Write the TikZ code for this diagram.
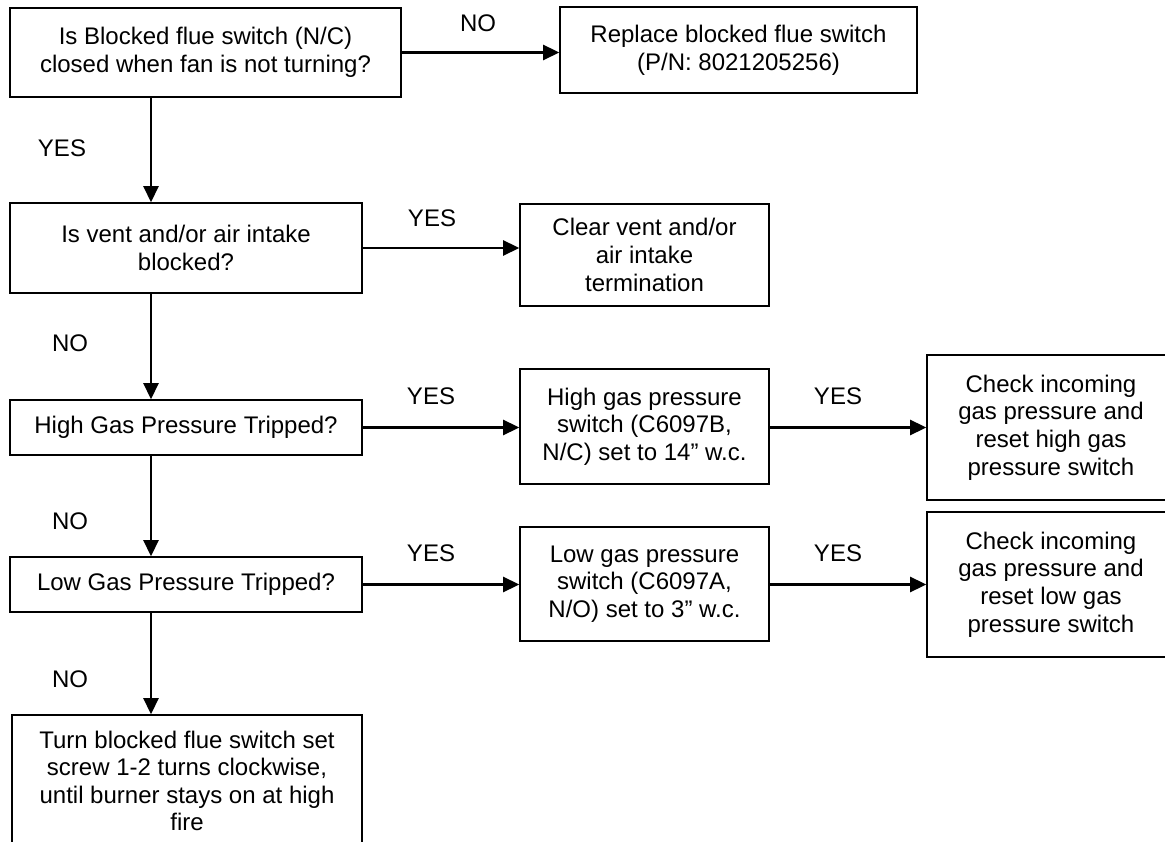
\documentclass[tikz,border=0pt]{standalone}
\usepackage{fontspec}
\setmainfont{Liberation Sans}
\usetikzlibrary{arrows.meta}

\begin{document}
\begin{tikzpicture}[x=1pt,y=-1pt,
    box/.style={draw, line width=1.6pt, inner sep=0pt, align=center,
        font=\fontsize{24}{27.6}\selectfont},
    answer/.style={font=\fontsize{24}{27.6}\selectfont},
    flow/.style={line width=2.6pt, -{Triangle[length=16pt,width=15pt]}}]
    \useasboundingbox (0,0) rectangle (1165,842);
    \clip (0,0) rectangle (1165,842);

    %% left column: the checks
    \node[box, minimum width=391pt, minimum height=89pt] (flue) at (205.5,52.5)
        {Is Blocked flue switch (N/C)\\closed when fan is not turning?};
    \node[box, minimum width=352pt, minimum height=90pt] (vent) at (186,248)
        {Is vent and/or air intake\\blocked?};
    \node[box, minimum width=352pt, minimum height=55pt] (highq) at (186,427.5)
        {High Gas Pressure Tripped?};
    \node[box, minimum width=352pt, minimum height=55pt] (lowq) at (186,584.5)
        {Low Gas Pressure Tripped?};
    \node[box, minimum width=350pt, minimum height=132pt] (screw) at (187,781)
        {Turn blocked flue switch set\\screw 1-2 turns clockwise,\\until burner stays on at high\\fire};

    %% right side: the actions
    \node[box, minimum width=357pt, minimum height=86pt] (replace) at (738.5,50)
        {Replace blocked flue switch\\(P/N: 8021205256)};
    \node[box, minimum width=249pt, minimum height=102pt] (clear) at (644.5,255)
        {Clear vent and/or\\air intake\\termination};
    \node[box, minimum width=249pt, minimum height=115pt] (highsw) at (644.5,426.5)
        {High gas pressure\\switch (C6097B,\\N/C) set to 14” w.c.};
    \node[box, minimum width=249pt, minimum height=114pt] (lowsw) at (644.5,584)
        {Low gas pressure\\switch (C6097A,\\N/O) set to 3” w.c.};
    \node[box, minimum width=248pt, minimum height=145pt] (highchk) at (1051,427.5)
        {Check incoming\\gas pressure and\\reset high gas\\pressure switch};
    \node[box, minimum width=248pt, minimum height=145pt] (lowchk) at (1051,584.5)
        {Check incoming\\gas pressure and\\reset low gas\\pressure switch};

    \coordinate (spine) at (151,0);

    %% connectors
    \draw[flow] (flue.south -| spine) -- (vent.north -| spine);
    \draw[flow] (vent.south -| spine) -- (highq.north -| spine);
    \draw[flow] (highq.south -| spine) -- (lowq.north -| spine);
    \draw[flow] (lowq.south -| spine) -- (screw.north -| spine);
    \draw[flow] (flue.east) -- (flue.east -| replace.west);
    \draw[flow] (vent.east) -- (vent.east -| clear.west);
    \draw[flow] (highq.east) -- (highq.east -| highsw.west);
    \draw[flow] (highsw.east |- highq.east) -- (highq.east -| highchk.west);
    \draw[flow] (lowq.east) -- (lowq.east -| lowsw.west);
    \draw[flow] (lowsw.east |- lowq.east) -- (lowq.east -| lowchk.west);

    %% answers
    \node[answer] (noFlue) at (478,23) {NO};
    \node[answer] (yesFlue) at (62,148) {YES};
    \node[answer] (yesVent) at (432,218) {YES};
    \node[answer] (noVent) at (70,343) {NO};
    \node[answer] (yesHigh) at (431,396) {YES};
    \node[answer] (yesHighSw) at (838,396) {YES};
    \node[answer] (noHigh) at (70,521) {NO};
    \node[answer] (yesLow) at (431,553) {YES};
    \node[answer] (yesLowSw) at (838,553) {YES};
    \node[answer] (noLow) at (70,679) {NO};
\end{tikzpicture}
\end{document}
